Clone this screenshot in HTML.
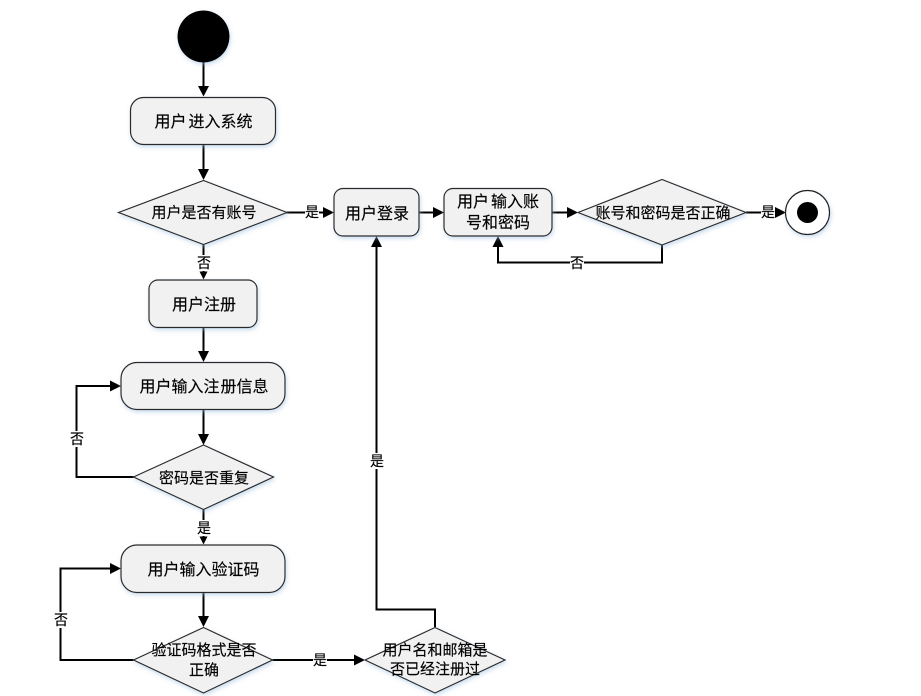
<!DOCTYPE html>
<html>
<head>
<meta charset="utf-8">
<style>
html,body{margin:0;padding:0;background:#fff;}
svg{display:block;}
text{font-family:"Liberation Sans","Noto Sans CJK SC",sans-serif;fill:#000;stroke:#000;stroke-width:.15;text-anchor:middle;}
.b{font-size:16px;}
.d{font-size:15px;}
.l{font-size:14px;}
.s{fill:#f1f1f1;stroke:#2a2a2a;stroke-width:1.2;filter:url(#sh);}
.c{fill:none;stroke:#000;stroke-width:2;}
.a{fill:#000;stroke:none;}
.w{fill:#fff;stroke:none;}
</style>
</head>
<body>
<svg width="921" height="696" viewBox="0 0 921 696" xmlns="http://www.w3.org/2000/svg">
<defs>
<filter id="sh" x="-20%" y="-20%" width="140%" height="150%">
<feDropShadow dx="1" dy="2" stdDeviation="2" flood-color="#9dbfe0" flood-opacity="0.55"/>
</filter>
</defs>

<!-- connectors -->
<path class="c" d="M203.500 62V87"/>
<path class="a" d="M198 86H209L203.500 96.500Z"/>
<path class="c" d="M203.500 144V170"/>
<path class="a" d="M198 169H209L203.500 180Z"/>
<path class="c" d="M203.500 244V272"/>
<path class="a" d="M199.500 271.500H207.500L203.500 279.500Z"/>
<path class="c" d="M203.500 327V353"/>
<path class="a" d="M198 351H209L203.500 362Z"/>
<path class="c" d="M203.500 409V436"/>
<path class="a" d="M198 434H209L203.500 445Z"/>
<path class="c" d="M203.500 509V537"/>
<path class="a" d="M199.500 536.500H207.500L203.500 544.500Z"/>
<path class="c" d="M203.500 592V618"/>
<path class="a" d="M198 616H209L203.500 627Z"/>
<path class="c" d="M133.500 477H76.500V386H112"/>
<path class="a" d="M110 380.500V391.500L121 386Z"/>
<path class="c" d="M133.500 660H60.500V568.500H112"/>
<path class="a" d="M110 563V574L121 568.500Z"/>
<path class="c" d="M272.500 660H356"/>
<path class="a" d="M354 654.500V665.500L365 660Z"/>
<path class="c" d="M435 627V609.500H376.500V246"/>
<path class="a" d="M371 247H382L376.500 236Z"/>
<path class="c" d="M286.500 212.500H325"/>
<path class="a" d="M323 207V218L334 212.500Z"/>
<path class="c" d="M418.500 212.500H435"/>
<path class="a" d="M433 207V218L444 212.500Z"/>
<path class="c" d="M552 212.500H568"/>
<path class="a" d="M567 207V218L578 212.500Z"/>
<path class="c" d="M746 212.500H776"/>
<path class="a" d="M775 207V218L786 212.500Z"/>
<path class="c" d="M662 244.500V262.500H498V246"/>
<path class="a" d="M492.500 247H503.500L498 236Z"/>

<!-- connector labels -->
<rect class="w" x="305" y="204" width="14" height="16"/>
<text class="l" x="312" y="217">是</text>
<rect class="w" x="197" y="255" width="14" height="16"/>
<text class="l" x="204" y="268">否</text>
<rect class="w" x="197" y="520" width="14" height="16"/>
<text class="l" x="204" y="533">是</text>
<rect class="w" x="70" y="431" width="14" height="16"/>
<text class="l" x="77" y="444">否</text>
<rect class="w" x="54" y="612" width="14" height="16"/>
<text class="l" x="61" y="625">否</text>
<rect class="w" x="313" y="652" width="14" height="16"/>
<text class="l" x="320" y="665">是</text>
<rect class="w" x="370" y="453" width="14" height="16"/>
<text class="l" x="377" y="466">是</text>
<rect class="w" x="570" y="255" width="14" height="16"/>
<text class="l" x="577" y="268">否</text>
<rect class="w" x="761" y="204" width="14" height="16"/>
<text class="l" x="768" y="217">是</text>

<!-- start -->
<circle cx="203.500" cy="36.500" r="26" fill="#000" filter="url(#sh)"/>

<!-- boxes -->
<rect class="s" x="130.500" y="97.500" width="145" height="47" rx="13"/>
<text class="b" x="203.500" y="127"><tspan>用户</tspan><tspan dx="2">进入系统</tspan></text>
<rect class="s" x="334" y="188.500" width="85" height="47.500" rx="9"/>
<text class="b" x="377" y="219">用户登录</text>
<rect class="s" x="444" y="188.500" width="108" height="47.500" rx="9"/>
<text class="b" x="498" y="207"><tspan>用户</tspan><tspan dx="2">输入账</tspan></text>
<text class="b" x="498" y="228">号和密码</text>
<rect class="s" x="149" y="280" width="108" height="47.500" rx="9"/>
<text class="b" x="204" y="310">用户注册</text>
<rect class="s" x="121" y="362.500" width="164" height="47" rx="16"/>
<text class="b" x="204" y="392">用户输入注<tspan dx="1">册信息</tspan></text>
<rect class="s" x="121" y="545" width="164" height="47.500" rx="16"/>
<text class="b" x="203.500" y="575">用户输入验证码</text>

<!-- diamonds -->
<polygon class="s" points="118.500,212.500 203.500,180.500 287,212.500 203.500,244.500"/>
<text class="d" x="204" y="217.500">用户是否有账号</text>
<polygon class="s" points="578,212.500 662,179.500 746,212.500 662,245"/>
<text class="d" x="663" y="218">账号和密码是否正确</text>
<polygon class="s" points="133.500,477 203.500,445 273.500,477 203.500,509.500"/>
<text class="d" x="204" y="483">密码是否重复</text>
<polygon class="s" points="133.500,660 203.500,627.500 272.500,660 203.500,693"/>
<text class="d" x="204" y="655">验证码格式是否</text>
<text class="d" x="204" y="675">正确</text>
<polygon class="s" points="365,660 435,627.500 505,660 435,693"/>
<text class="d" x="435" y="655">用户名和邮箱是</text>
<text class="d" x="435" y="674">否已经注册过</text>

<!-- end -->
<circle cx="807.500" cy="212.500" r="22" fill="#fff" stroke="#222" stroke-width="1.200" filter="url(#sh)"/>
<circle cx="807.500" cy="212.500" r="10.500" fill="#000"/>
</svg>
</body>
</html>
